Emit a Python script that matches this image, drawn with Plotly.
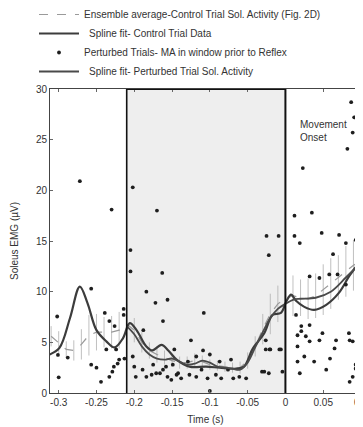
import plotly.graph_objects as go

# ---------------- data ----------------
# Ensemble average - control trial soleus activity (with spread ticks)
ens_t = [-0.31, -0.30, -0.29, -0.28, -0.27, -0.26, -0.25, -0.24, -0.23, -0.22,
         -0.21, -0.20, -0.19, -0.18, -0.17, -0.16, -0.15, -0.14, -0.13, -0.12,
         -0.11, -0.10, -0.09, -0.08, -0.07, -0.06, -0.05, -0.04, -0.03, -0.02,
         -0.01, 0.00, 0.01, 0.02, 0.03, 0.04, 0.05, 0.06, 0.07, 0.08, 0.09, 0.10]
ens_v = [5.6, 4.9, 4.3, 4.2, 4.8, 5.7, 6.0, 6.0, 6.0, 6.2,
         6.8, 6.2, 5.0, 4.2, 3.8, 3.5, 3.2, 3.0, 3.0, 3.2,
         3.1, 2.8, 2.7, 2.6, 2.5, 2.5, 3.2, 4.6, 6.3, 7.8,
         8.8, 9.3, 9.6, 9.4, 9.3, 9.6, 10.2, 10.8, 11.4, 12.0, 12.6, 13.0]
ens_err = [1.0, 1.2, 0.8, 1.0, 1.5, 2.0, 1.8, 1.5, 1.6, 1.8,
           2.0, 1.2, 1.0, 0.8, 0.8, 0.7, 0.6, 0.6, 0.6, 0.7,
           0.6, 0.5, 0.5, 0.5, 0.5, 0.6, 0.8, 1.0, 1.5, 2.0,
           1.8, 1.5, 2.0, 1.8, 2.0, 2.2, 2.5, 2.5, 2.2, 2.5, 2.5, 2.0]

# Spline fit - control trial data
ctl_t = [-0.312, -0.299, -0.285, -0.272, -0.262, -0.250, -0.237, -0.226, -0.215, -0.206,
         -0.197, -0.184, -0.176, -0.164, -0.155, -0.144, -0.127, -0.105, -0.087, -0.065,
         -0.055, -0.043, -0.028, -0.017, -0.006, 0.001, 0.0075, 0.014, 0.025, 0.038,
         0.054, 0.071, 0.085, 0.100]
ctl_v = [3.8, 4.45, 7.4, 10.5, 8.9, 6.2, 5.1, 4.5, 5.4, 6.9,
         6.2, 4.6, 4.2, 4.75, 4.2, 3.3, 2.6, 2.6, 2.5, 2.4,
         2.6, 4.4, 5.9, 7.7, 7.9, 9.0, 9.7, 9.1, 8.5, 8.2,
         8.7, 9.9, 11.6, 13.1]

# Spline fit - perturbed trial soleus activity
per_t = [-0.21, -0.20, -0.19, -0.18, -0.17, -0.16, -0.15, -0.14, -0.13, -0.12,
         -0.11, -0.10, -0.09, -0.08, -0.07, -0.06, -0.05, -0.04, -0.03, -0.02,
         -0.01, 0.00, 0.01, 0.02, 0.04, 0.06, 0.08, 0.100]
per_v = [6.6, 5.8, 4.6, 3.8, 3.4, 3.3, 3.4, 3.1, 2.8, 2.9,
         3.2, 3.0, 2.6, 2.5, 2.4, 2.3, 3.0, 4.5, 6.0, 7.4,
         8.3, 8.8, 9.2, 9.3, 9.4, 10.0, 11.4, 12.9]

# Perturbed trials - MA in window prior to reflex
dot_t = [-0.272, -0.230, -0.202, -0.170, -0.205,
         0.087, 0.091, 0.089, 0.082, 0.023,
         0.012, 0.035, -0.025, -0.009, -0.022,
         0.012, 0.019, 0.048, 0.071, 0.080, 0.093, 0.063,
         -0.205, -0.163, -0.257, -0.184, -0.172, -0.156, -0.162, -0.302, -0.239, -0.214,
         -0.214, -0.108, -0.125, -0.188, -0.233, -0.226,
         0.032, 0.045, 0.058, 0.069, 0.080, 0.095, 0.014, 0.021, 0.021, 0.032, 0.049,
         0.084, 0.089,
         -0.026, -0.021, -0.008, 0.016, 0.027, 0.032, 0.045, 0.067, 0.085, 0.016, 0.065,
         0.016, 0.038, 0.059, 0.054, 0.019, 0.089, 0.085, 0.093, 0.093, 0.025,
         -0.301, -0.288, -0.300, -0.257, -0.250, -0.244, -0.233, -0.229, -0.227, -0.222,
         -0.220, -0.213, -0.224, -0.237,
         -0.200, -0.198, -0.189, -0.184, -0.175, -0.171, -0.162, -0.156, -0.149, -0.142,
         -0.202,
         -0.147, -0.109, -0.100, -0.087, -0.072, -0.118, -0.129, -0.177, -0.166, -0.158,
         -0.144, -0.138, -0.127, -0.118, -0.111, -0.103, -0.092, -0.085, -0.076, -0.069,
         -0.061, -0.052, -0.100, -0.151,
         -0.028, -0.022, -0.026, -0.020, -0.006, -0.031, -0.004]
dot_v = [20.9, 18.1, 20.3, 18.0, 14.1,
         28.7, 27.2, 25.7, 24.1, 22.2,
         17.5, 17.8, 15.5, 15.5, 13.6,
         15.5, 14.8, 15.8, 15.6, 14.8, 15.1, 13.7,
         12.0, 11.85, 10.3, 10.0, 8.9, 9.2, 7.1, 7.55, 7.9, 8.3,
         7.7, 7.9, 5.2, 6.2, 7.1, 6.6,
         11.5, 11.35, 11.7, 11.7, 10.7, 9.5, 7.7, 6.6, 6.1, 6.7, 5.9,
         5.9, 5.1,
         5.2, 4.3, 4.3, 5.7, 5.6, 5.1, 5.2, 5.2, 5.2, 4.6, 4.4,
         3.1, 3.1, 3.4, 2.3, 1.95, 1.6, 1.1, 2.4, 2.8, 3.6,
         3.76, 3.5, 1.55, 2.8, 2.5, 1.1, 1.6, 2.1, 2.6, 2.9,
         3.3, 3.4, 4.3, 4.3,
         2.6, 1.6, 2.3, 1.6, 2.8, 1.95, 2.3, 1.6, 2.8, 1.95,
         3.6,
         4.3, 4.2, 3.8, 3.1, 3.3, 3.6, 3.1, 1.8, 1.95, 2.6,
         1.8, 1.45, 1.8, 1.6, 2.3, 1.45, 1.8, 1.45, 2.3, 1.45,
         1.6, 1.45, 0.2, 1.3,
         2.1, 1.95, 4.3, 4.3, 4.3, 2.1, 2.1]

x_ticks = [-0.3, -0.25, -0.2, -0.15, -0.1, -0.05, 0, 0.05, 0.1]
x_tick_labels = ["-0.3", "-0.25", "-0.2", "-0.15", "-0.1", "-0.05", "0", "0.05", "0.1"]
y_ticks = [0, 5, 10, 15, 20, 25, 30]

window_start = -0.21
window_end = 0.0

# ---------------- figure ----------------
FONT = "Liberation Sans, Arial, sans-serif"
fig = go.Figure()

fig.add_trace(go.Scatter(
    x=ens_t, y=ens_v, mode="lines",
    name="Ensemble average-Control Trial Sol. Activity (Fig. 2D)",
    line=dict(color="#9a9a9a", width=1.2, dash="dash"),
    error_y=dict(type="data", array=ens_err, visible=True,
                 color="#b0b0b0", thickness=0.8, width=0),
))
fig.add_trace(go.Scatter(
    x=ctl_t, y=ctl_v, mode="lines", line_shape="spline",
    name="\u2002Spline fit- Control Trial Data",
    line=dict(color="#3c3c3c", width=2.2),
))
fig.add_trace(go.Scatter(
    x=dot_t, y=dot_v, mode="markers",
    name="Perturbed Trials- MA in window prior to Reflex",
    marker=dict(color="#1e1e1e", size=3.8),
))
fig.add_trace(go.Scatter(
    x=per_t, y=per_v, mode="lines", line_shape="spline",
    name="\u2002Spline fit- Perturbed Trial Sol. Activity",
    line=dict(color="#4a4a4a", width=1.8),
))

# shaded window
fig.add_shape(type="rect", x0=window_start, x1=window_end, y0=0, y1=30,
              xref="x", yref="y", fillcolor="#eeeeee", line_width=0, layer="below")
for xv in (window_start, window_end):
    fig.add_shape(type="line", x0=xv, x1=xv, y0=0, y1=30, xref="x", yref="y",
                  line=dict(color="#111111", width=2 if xv == window_end else 1.6),
                  layer="above")
fig.add_shape(type="line", x0=window_start, x1=window_end, y0=30, y1=30,
              xref="x", yref="y", line=dict(color="#111111", width=2), layer="above")

fig.add_annotation(x=0.017, y=27.2, xref="x", yref="y", text="Movement<br>Onset",
                   showarrow=False, xanchor="left", yanchor="top", align="left",
                   font=dict(family=FONT, size=10, color="#333333"))

# page body adds an 8px offset, so the figure is sized to the remaining area
W, H = 355, 419
ML, MR, MT, MB = 42, 2, 81, 34
PW, PH = W - ML - MR, H - MT - MB

fig.update_layout(
    width=W, height=H,
    margin=dict(l=ML, r=MR, t=MT, b=MB, autoexpand=False),
    paper_bgcolor="white", plot_bgcolor="white",
    font=dict(family=FONT, size=10, color="#333333"),
    showlegend=True,
    legend=dict(x=(26 - ML) / PW, y=(H - MB + 8) / PH,
                xanchor="left", yanchor="top",
                bgcolor="rgba(0,0,0,0)", font=dict(size=10, color="#333333"),
                itemwidth=40, tracegroupgap=0),
    xaxis=dict(range=[-0.3115, 0.1], tickvals=x_ticks, ticktext=x_tick_labels,
               ticklabeloverflow="allow",
               showgrid=False, zeroline=False, showline=True, linecolor="#444444",
               linewidth=1, mirror="ticks", ticks="inside", ticklen=3,
               tickcolor="#666666", tickfont=dict(size=10, color="#333333"),
               title=dict(text="Time (s)", font=dict(size=10), standoff=8)),
    yaxis=dict(range=[0, 30], tickvals=y_ticks, showgrid=False, zeroline=False,
               showline=True, linecolor="#444444", linewidth=1, mirror="ticks",
               ticks="inside", ticklen=3, tickcolor="#666666",
               tickfont=dict(size=10, color="#333333"),
               title=dict(text="Soleus EMG (µV)", font=dict(size=10), standoff=15)),
)

fig.write_html("out.html")
